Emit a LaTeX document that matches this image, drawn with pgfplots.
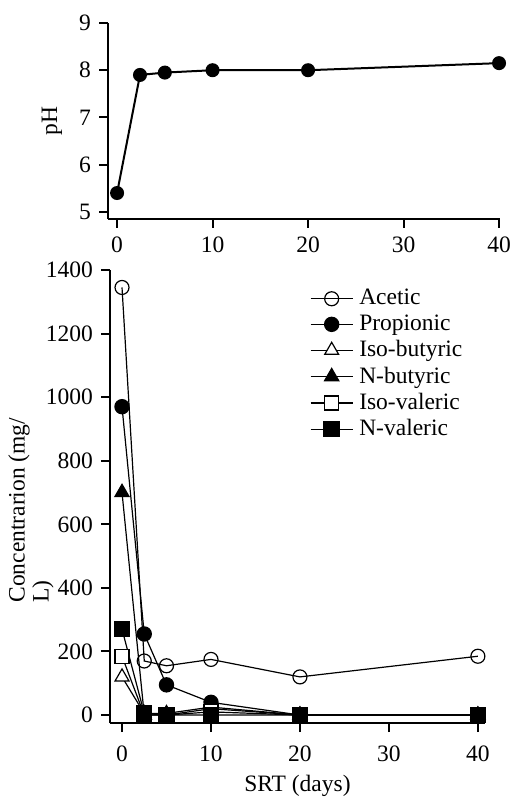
\documentclass[border=0pt]{standalone}
\usepackage{fontspec}
\setmainfont{Liberation Serif}
\usepackage{pgfplots}
\pgfplotsset{compat=1.18}
\begin{document}
\fontsize{23.5}{25}\selectfont
\begin{tikzpicture}
\useasboundingbox (0,0) rectangle (512pt,797pt);
\pgfplotsset{
  every axis/.append style={
    scale only axis,
    axis x line=bottom, axis y line=left,
    axis line style={line width=2pt,-},
    tick style={line width=2pt, black},
    major tick length=9pt,
    tick align=outside,
    /pgf/number format/assume math mode=true,
    /pgf/number format/set thousands separator={},
    tick label style={font=\fontsize{23.5}{25}\selectfont},
    label style={font=\fontsize{23.5}{24}\selectfont},
    xtick={0,10,20,30,40},
    clip=false,
  }
}
% top: pH
\begin{axis}[
  at={(108pt,578pt)}, anchor=south west,
  width=392pt, height=196pt,
  xmin=-0.95, xmax=40.1, ymin=4.85, ymax=9,
  ytick={5,6,7,8,9},
  ylabel={pH},
  ylabel style={at={(axis description cs:-0.143,0.5)}, anchor=center},
  xticklabel style={yshift=-1pt},
]
\addplot[black, line width=2pt, mark=*, mark size=6pt] coordinates {
(0,5.4)(2.4,7.9)(5,7.95)(10,8.0)(20,8.0)(40,8.15)};
\end{axis}
% bottom: concentrations
\begin{axis}[
  at={(110pt,74pt)}, anchor=south west,
  width=375pt, height=453pt,
  xmin=-1.35, xmax=40.8, ymin=-25, ymax=1400,
  ytick={0,200,400,600,800,1000,1200,1400},
  xlabel={SRT (days)},
  xlabel style={at={(axis description cs:0.5,-0.139)}, anchor=center},
  xticklabel style={yshift=-6pt},
  ylabel={Concentrarion (mg/\\L)},
  ylabel style={at={(axis description cs:-0.211,0.47)}, anchor=center, align=left},
  legend style={at={(axis description cs:0.533,0.958)}, anchor=north west, draw=none, fill=none,
    font=\fontsize{23.5}{25}\selectfont, row sep=6.5pt, inner sep=0pt,
    nodes={inner xsep=6pt, inner ysep=0pt}},
  legend cell align=left,
  legend image code/.code={\draw[mark repeat=2,mark phase=2,#1] plot coordinates {(0pt,0pt)(21pt,0pt)(42pt,0pt)};},
  every axis plot/.append style={black, line width=1.2pt, mark options={solid, line width=1.4pt}},
]
\addplot[mark=o, mark size=7pt, mark options={fill=white}] coordinates {
(0,1345)(2.5,170)(5,155)(10,175)(20,120)(40,185)};
\addlegendentry{Acetic}
\addplot[mark=*, mark size=7pt] coordinates {
(0,970)(2.5,255)(5,95)(10,40)(20,0)(40,0)};
\addlegendentry{Propionic}
\addplot[mark=triangle*, mark size=8pt, mark options={fill=white}] coordinates {
(0,120)(2.5,5)(5,5)(10,25)(20,0)(40,0)};
\addlegendentry{Iso-butyric}
\addplot[mark=triangle*, mark size=8pt] coordinates {
(0,700)(2.5,0)(5,0)(10,20)(20,0)(40,0)};
\addlegendentry{N-butyric}
\addplot[mark=square*, mark size=7pt, mark options={fill=white}] coordinates {
(0,185)(2.5,0)(5,0)(10,10)(20,0)(40,0)};
\addlegendentry{Iso-valeric}
\addplot[mark=square*, mark size=7.5pt] coordinates {
(0,270)(2.5,5)(5,0)(10,0)(20,0)(40,0)};
\addlegendentry{N-valeric}
\end{axis}
\end{tikzpicture}
\end{document}
